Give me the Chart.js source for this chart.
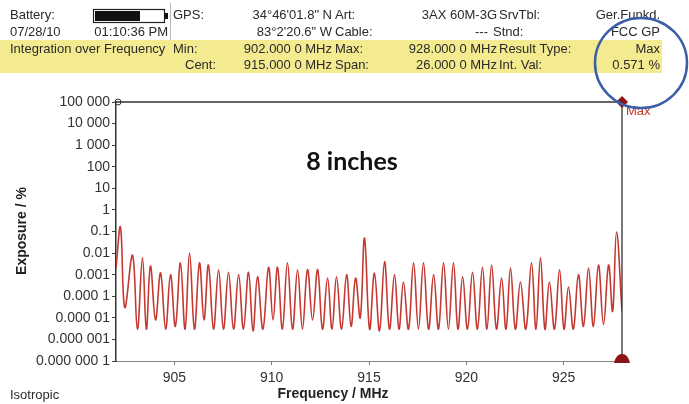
<!DOCTYPE html>
<html>
<head>
<meta charset="utf-8">
<script src="https://cdn.jsdelivr.net/npm/chart.js@4"></script>
<style>
  html, body { margin: 0; padding: 0; background: #fff; }
  #wrap { width: 689px; height: 404px; }
</style>
</head>
<body>
<div id="wrap"><canvas id="spectrum"></canvas></div>
<script>
// frequency (MHz) and exposure (%), peak / trough pairs
const freqs = [
  902.00, 902.23, 902.45, 902.85, 903.10, 903.36, 903.56, 903.77, 904.03, 904.29,
  904.55, 904.80, 905.05, 905.31, 905.55, 905.78, 906.03, 906.29, 906.52, 906.75,
  907.01, 907.27, 907.52, 907.78, 908.04, 908.30, 908.55, 908.81, 909.04, 909.27,
  909.55, 909.84, 910.07, 910.30, 910.55, 910.81, 911.07, 911.33, 911.58, 911.84,
  912.10, 912.36, 912.61, 912.87, 913.10, 913.33, 913.59, 913.85, 914.08, 914.31,
  914.55, 914.77, 915.03, 915.28, 915.54, 915.80, 916.05, 916.31, 916.54, 916.77,
  917.03, 917.29, 917.54, 917.80, 918.06, 918.32, 918.57, 918.83, 919.08, 919.34,
  919.57, 919.81, 920.06, 920.32, 920.57, 920.83, 921.06, 921.30, 921.55, 921.81,
  922.04, 922.27, 922.52, 922.78, 923.06, 923.35, 923.58, 923.81, 924.04, 924.27,
  924.53, 924.79, 925.02, 925.25, 925.50, 925.76, 926.02, 926.28, 926.53, 926.79,
  927.05, 927.31, 927.52, 927.72, 928.00
];
const exposure = [
  0.002, 0.16, 3e-5, 0.008, 3e-6, 0.006, 3e-6, 0.0025, 8e-6, 0.0012,
  3e-6, 0.001, 4e-6, 0.0035, 3e-6, 0.01, 3e-6, 0.0035, 8e-6, 0.0028,
  3e-6, 0.0017, 3e-6, 0.0013, 3e-6, 0.001, 3e-6, 0.0013, 2.5e-6, 0.0008,
  3e-6, 0.0022, 8e-6, 0.0022, 3e-6, 0.0035, 3e-6, 0.0017, 3e-6, 0.0017,
  8e-6, 0.0017, 3e-6, 0.0007, 3e-6, 0.0008, 3e-6, 0.001, 4e-6, 0.0007,
  1e-5, 0.05, 3e-6, 0.0012, 2.5e-6, 0.004, 3e-6, 0.001, 3e-6, 0.00046,
  3e-6, 0.0035, 3e-6, 0.0035, 3e-6, 0.001, 3e-6, 0.0035, 3e-6, 0.0035,
  3e-6, 0.0008, 3e-6, 0.0013, 3e-6, 0.0022, 3e-6, 0.0028, 3e-6, 0.0007,
  3e-6, 0.002, 3e-6, 0.00046, 3e-6, 0.0035, 3e-6, 0.006, 3e-6, 0.00046,
  3e-6, 0.0017, 3e-6, 0.00027, 3e-6, 0.001, 4e-6, 0.002, 4e-6, 0.0028,
  5e-6, 0.0028, 2e-5, 0.095, 2e-5
];

const xTicks = [905, 910, 915, 920, 925];
const yTicks = [1e-7, 1e-6, 1e-5, 1e-4, 1e-3, 1e-2, 1e-1, 1, 10, 100, 1e3, 1e4, 1e5];
const yTickLabels = ['0.000 000 1', '0.000 001', '0.000 01', '0.000 1', '0.001', '0.01',
  '0.1', '1', '10', '100', '1 000', '10 000', '100 000'];
const markerFreq = 928;

// header rows of the meter printout: [text, x, row, align]
const headerText = [
  ['Battery:', 10, 0, 'left'], ['GPS:', 173, 0, 'left'],
  ['34°46\'01.8" N', 332, 0, 'right'], ['Art:', 335, 0, 'left'],
  ['3AX 60M-3G', 497, 0, 'right'], ['SrvTbl:', 499, 0, 'left'],
  ['Ger.Funkd.', 660, 0, 'right'],
  ['07/28/10', 10, 1, 'left'], ['01:10:36 PM', 168, 1, 'right'],
  ['83°2\'20.6" W', 332, 1, 'right'], ['Cable:', 335, 1, 'left'],
  ['---', 488, 1, 'right'], ['Stnd:', 493, 1, 'left'],
  ['FCC GP', 660, 1, 'right'],
  ['Integration over Frequency', 10, 2, 'left'], ['Min:', 173, 2, 'left'],
  ['902.000 0 MHz', 332, 2, 'right'], ['Max:', 335, 2, 'left'],
  ['928.000 0 MHz', 497, 2, 'right'], ['Result Type:', 499, 2, 'left'],
  ['Max', 660, 2, 'right'],
  ['Cent:', 185, 3, 'left'], ['915.000 0 MHz', 332, 3, 'right'],
  ['Span:', 335, 3, 'left'], ['26.000 0 MHz', 497, 3, 'right'],
  ['Int. Val:', 499, 3, 'left'], ['0.571 %', 660, 3, 'right']
];
const rowY = [15, 32, 49, 65];

const decor = {
  id: 'decor',
  beforeDraw(chart) {
    const c = chart.ctx;
    c.save();
    c.fillStyle = '#fff';
    c.fillRect(0, 0, chart.width, chart.height);
    // yellow band
    c.fillStyle = '#f4eb90';
    c.fillRect(0, 40, 662, 33);
    // separator
    c.strokeStyle = '#bbb';
    c.lineWidth = 1;
    c.beginPath(); c.moveTo(170.5, 3); c.lineTo(170.5, 40); c.stroke();
    // battery
    c.strokeStyle = '#222';
    c.lineWidth = 1.2;
    c.strokeRect(93.5, 9.5, 71, 13);
    c.fillStyle = '#111';
    c.fillRect(95, 11, 45, 10);
    c.fillRect(165, 13, 3, 6);
    // texts
    c.font = '13px "Liberation Sans", Arial, sans-serif';
    c.fillStyle = '#2a2a2a';
    c.textBaseline = 'middle';
    headerText.forEach(([t, x, r, a]) => {
      c.textAlign = a;
      c.fillText(t, x, rowY[r]);
    });
    c.textAlign = 'left';
    c.font = '13px "Liberation Sans", Arial, sans-serif';
    c.fillText('Isotropic', 10, 395);
    c.restore();
  },
  afterDraw(chart) {
    const c = chart.ctx;
    const a = chart.chartArea;
    const mx = chart.scales.x.getPixelForValue(markerFreq);
    c.save();
    // top border and marker line
    c.strokeStyle = '#333';
    c.lineWidth = 1.3;
    c.beginPath();
    c.moveTo(a.left, a.top); c.lineTo(mx, a.top);
    c.moveTo(mx, a.top); c.lineTo(mx, a.bottom);
    c.stroke();
    // small circle at top-left corner
    c.lineWidth = 1;
    c.beginPath(); c.arc(a.left + 2, a.top, 3, 0, Math.PI * 2); c.stroke();
    // max diamond
    c.fillStyle = '#8c1414';
    c.beginPath();
    c.moveTo(mx, a.top - 6); c.lineTo(mx + 6, a.top); c.lineTo(mx, a.top + 6); c.lineTo(mx - 6, a.top);
    c.closePath(); c.fill();
    c.fillStyle = '#c4352c';
    c.font = '13px "Liberation Sans", Arial, sans-serif';
    c.textBaseline = 'middle';
    c.textAlign = 'left';
    c.fillText('Max', mx + 4, a.top + 9);
    // bottom marker
    c.fillStyle = '#8c1414';
    c.beginPath();
    c.moveTo(mx - 8, a.bottom + 2);
    c.quadraticCurveTo(mx - 6, a.bottom - 7, mx, a.bottom - 7);
    c.quadraticCurveTo(mx + 6, a.bottom - 7, mx + 8, a.bottom + 2);
    c.closePath(); c.fill();
    // axis titles
    c.fillStyle = '#222';
    c.font = 'bold 14px "Liberation Sans", Arial, sans-serif';
    c.textAlign = 'center';
    c.fillText('Frequency / MHz', 333, 394);
    c.save();
    c.translate(22, 231);
    c.rotate(-Math.PI / 2);
    c.fillText('Exposure / %', 0, 0);
    c.restore();
    // annotation
    c.font = 'bold 25px Lato, "Open Sans", sans-serif';
    c.fillStyle = '#111';
    c.fillText('8 inches', 352, 162);
    // blue circle
    c.strokeStyle = '#3c5ea8';
    c.lineWidth = 2.5;
    c.beginPath();
    c.ellipse(641, 63, 46, 45, 0, 0, Math.PI * 2);
    c.stroke();
    c.restore();
  }
};

new Chart(document.getElementById('spectrum'), {
  type: 'line',
  data: {
    datasets: [{
      data: freqs.map((f, i) => ({ x: f, y: exposure[i] })),
      borderColor: '#c43a32',
      borderWidth: 1.6,
      pointRadius: 0,
      tension: 0.4,
      fill: false
    }]
  },
  options: {
    responsive: true,
    maintainAspectRatio: false,
    animation: false,
    layout: { padding: { left: 0, top: 102, right: 67, bottom: 0 } },
    plugins: { legend: { display: false }, tooltip: { enabled: false } },
    scales: {
      x: {
        type: 'linear',
        min: 902,
        max: 928,
        afterBuildTicks: s => { s.ticks = xTicks.map(v => ({ value: v })); },
        afterFit: s => { s.height = 43; },
        grid: { drawOnChartArea: false, drawTicks: true, tickLength: 4, color: '#777' },
        border: { color: '#888', width: 1, dash: [2, 2] },
        ticks: {
          color: '#333',
          padding: 5,
          maxRotation: 0,
          font: { family: '"Liberation Sans", Arial, sans-serif', size: 14 }
        }
      },
      y: {
        type: 'logarithmic',
        min: 1e-7,
        max: 1e5,
        afterBuildTicks: s => { s.ticks = yTicks.map(v => ({ value: v, major: true })); },
        afterFit: s => { s.width = 116; },
        grid: { drawOnChartArea: false, drawTicks: true, tickLength: 4, color: '#444' },
        border: { color: '#333', width: 1.5 },
        ticks: {
          color: '#333',
          padding: 2,
          font: { family: '"Liberation Sans", Arial, sans-serif', size: 14 },
          callback: v => {
            const i = yTicks.findIndex(t => Math.abs(Math.log10(t) - Math.log10(v)) < 1e-6);
            return i >= 0 ? yTickLabels[i] : '';
          }
        }
      }
    }
  },
  plugins: [decor]
});
</script>
</body>
</html>
